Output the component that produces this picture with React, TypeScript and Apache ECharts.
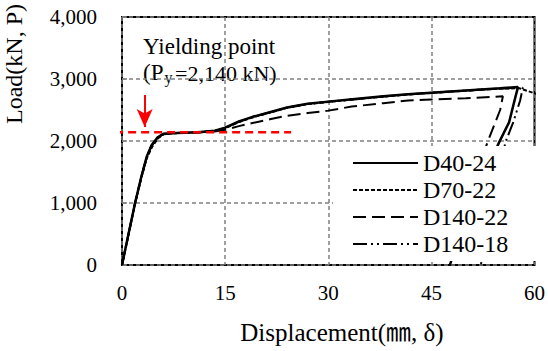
import React, { useEffect, useRef } from "react";
import * as echarts from "echarts";

const seriesNames = ["D40-24", "D70-22", "D140-22", "D140-18"];
const xTicks = [0, 15, 30, 45, 60];
const yTicks = [0, 1000, 2000, 3000, 4000];
const yieldLoad = 2140;
const yieldLineX = [-1, 24.6];
const arrowX = 3.3;
const arrowY = [2742, 2226];

const d40_24: [number, number][] = [
  [0, 0], [1, 530], [1.9, 1000], [2.8, 1420], [3.6, 1750], [4.3, 1930], [5.2, 2060], [6, 2115],
  [8, 2130], [11, 2140], [13.5, 2165], [15, 2215], [17, 2315], [19, 2390], [21.5, 2465],
  [24, 2540], [27, 2600], [30, 2635], [33.5, 2672], [38, 2720], [41.6, 2755], [45, 2780],
  [50, 2815], [55, 2850], [57.6, 2870], [57.2, 2700], [56.3, 2300], [54.9, 1990],
  [52.5, 1400], [50.5, 900], [48.8, 400], [47.7, 0],
];
const d70_22: [number, number][] = [
  [0, 0], [1, 520], [1.9, 990], [2.8, 1400], [3.6, 1720], [4.4, 1910], [5.3, 2050], [6.1, 2110],
  [8, 2128], [11, 2138], [13.5, 2160], [15, 2205], [17, 2305], [19, 2380], [21.5, 2458],
  [24, 2535], [27, 2595], [30, 2630], [33.5, 2668], [38, 2715], [41.6, 2750], [45, 2775],
  [50, 2812], [55, 2845], [57.8, 2850], [60, 2770], [61, 2730],
];
const d140_22: [number, number][] = [
  [0, 0], [1, 525], [1.9, 995], [2.8, 1410], [3.6, 1735], [4.3, 1920], [5.2, 2055], [6, 2112],
  [8, 2128], [11, 2138], [13.5, 2155], [15, 2180], [17, 2240], [19, 2290], [21.5, 2350],
  [23.8, 2403], [27, 2450], [30, 2490], [33.4, 2555], [38, 2610], [41.6, 2655], [45, 2670],
  [50, 2690], [55.4, 2720], [55.0, 2500], [53.2, 1990], [51, 1300], [48.5, 600], [45.6, 0],
];
const d140_18: [number, number][] = [
  [0, 0], [1, 528], [1.9, 1000], [2.8, 1415], [3.6, 1745], [4.3, 1928], [5.2, 2058], [6, 2114],
  [8, 2130], [11, 2140], [13.5, 2162], [15, 2210], [17, 2310], [19, 2386], [21.5, 2462],
  [24, 2538], [27, 2598], [30, 2633], [33.5, 2670], [38, 2718], [41.6, 2752], [45, 2778],
  [50, 2813], [55, 2848], [58.3, 2858], [57.9, 2650], [56.9, 2300], [55.8, 1990],
  [54.6, 1400], [53.5, 800], [52.2, 0],
];

const FONT = "'Liberation Serif', 'Times New Roman', 'Noto Sans CJK KR', serif";

export default function App() {
  const ref = useRef<HTMLDivElement>(null);
  useEffect(() => {
    if (!ref.current) return;
    const chart = echarts.init(ref.current, undefined, { renderer: "svg" });
    const lineBase = (name: string, data: [number, number][], width: number, type: any) => ({
      name,
      type: "line",
      data,
      symbol: "none",
      smooth: false,
      lineStyle: { color: "#000", width, type },
      itemStyle: { color: "#000" },
      z: 3,
    });
    chart.setOption({
      animation: false,
      backgroundColor: "#fff",
      grid: {
        left: 122,
        right: 11,
        top: 17,
        bottom: 86,
        show: true,
        borderColor: "#000",
        borderWidth: 2,
        backgroundColor: "transparent",
      },
      xAxis: {
        type: "value",
        min: xTicks[0],
        max: xTicks[xTicks.length - 1],
        interval: 15,
        axisLine: { show: false },
        axisTick: { show: false },
        axisLabel: {
          fontFamily: FONT,
          fontSize: 21,
          color: "#000",
          margin: 17,
          formatter: (v: number) => (xTicks.includes(v) ? String(v) : ""),
        },
        splitLine: { show: true, lineStyle: { color: "#808080", width: 1.5, type: [4, 3] } },
      },
      yAxis: {
        type: "value",
        min: yTicks[0],
        max: yTicks[yTicks.length - 1],
        interval: 1000,
        axisLine: { show: false },
        axisTick: { show: true, inside: true, length: 5, lineStyle: { color: "#808080", width: 1.5 } },
        axisLabel: {
          fontFamily: FONT,
          fontSize: 21,
          color: "#000",
          margin: 25,
          formatter: (v: number) => v.toLocaleString("en-US"),
        },
        splitLine: { show: true, lineStyle: { color: "#808080", width: 1.5, type: [4, 3] } },
      },
      legend: {
        data: seriesNames,
        orient: "vertical",
        left: 333,
        top: 146,
        padding: [5, 28, 5, 19],
        backgroundColor: "#fff",
        itemWidth: 65,
        itemHeight: 14,
        itemGap: 3,
        itemStyle: { opacity: 0 },
        textStyle: { fontFamily: FONT, fontSize: 24, color: "#000" },
        selectedMode: false,
      },
      series: [
        lineBase(seriesNames[0], d40_24, 2.5, "solid"),
        lineBase(seriesNames[1], d70_22, 2, [4, 2]),
        lineBase(seriesNames[2], d140_22, 2, [13, 6]),
        lineBase(seriesNames[3], d140_18, 2, [14, 4, 2, 4, 2, 4]),
        {
          name: "Yield",
          type: "line",
          data: yieldLineX.map((x) => [x, yieldLoad]),
          symbol: "none",
          clip: false,
          silent: true,
          lineStyle: { color: "#ff0000", width: 2.5, type: [8, 5] },
          z: 4,
          markLine: {
            silent: true,
            symbol: ["none", "arrow"],
            symbolSize: [12, 18],
            label: { show: false },
            lineStyle: { color: "#ff0000", width: 2, type: "solid" },
            data: [[{ coord: [arrowX, arrowY[0]] }, { coord: [arrowX, arrowY[1]] }]],
          },
        },
      ],
      graphic: [
        {
          type: "text",
          left: 143,
          top: 35,
          style: { text: "Yielding point", font: `23px ${FONT}`, fill: "#000" },
        },
        {
          type: "text",
          left: 143,
          top: 61,
          style: { text: "(P", font: `23px ${FONT}`, fill: "#000" },
        },
        {
          type: "text",
          left: 164.5,
          top: 69,
          style: { text: "y", font: `16px ${FONT}`, fill: "#000" },
        },
        {
          type: "text",
          left: 175,
          top: 62,
          style: { text: "=2,140 kN)", font: `22px ${FONT}`, fill: "#000" },
        },
        {
          type: "text",
          x: 14,
          y: 64,
          rotation: Math.PI / 2,
          style: {
            text: "Load(kN, P)",
            font: `24px ${FONT}`,
            fill: "#000",
            align: "center",
            verticalAlign: "middle",
          },
        },
        {
          type: "text",
          x: 342,
          y: 332,
          style: {
            text: "Displacement(㎜, δ)",
            font: `25px ${FONT}`,
            fill: "#000",
            align: "center",
            verticalAlign: "middle",
          },
        },
      ],
    });
    return () => chart.dispose();
  }, []);
  return (
    <div
      ref={ref}
      style={{ position: "absolute", left: 0, top: 0, width: 548, height: 351 }}
    />
  );
}
